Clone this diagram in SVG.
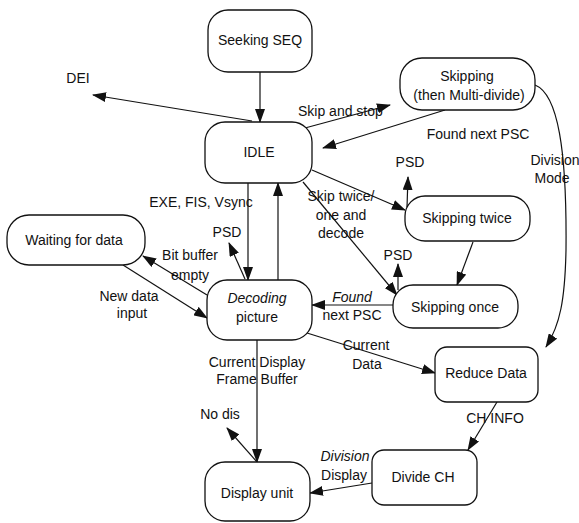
<svg xmlns="http://www.w3.org/2000/svg" width="579" height="523" viewBox="0 0 579 523">
  <style>
    .node rect { fill: #fff; stroke: #111; stroke-width: 1.3; }
    text { font-family: "Liberation Sans", Arial, sans-serif; font-size: 14px; fill: #111; }
    .c { text-anchor: middle; }
    .it { font-style: italic; }
    .edge { fill: none; stroke: #111; stroke-width: 1.2; }
  </style>
  <defs>
    <marker id="arrow" markerUnits="userSpaceOnUse" markerWidth="14" markerHeight="10" refX="13" refY="5" orient="auto">
      <path d="M0,0 L14,5 L0,10 z" fill="#111"/>
    </marker>
  </defs>
  <rect width="579" height="523" fill="#fff"/>

  <!-- connectors -->
  <g id="connectors">
    <path class="edge" d="M260,72 L260,122" marker-end="url(#arrow)"/>
    <path class="edge" d="M252,121 L93,95" marker-end="url(#arrow)"/>
    <path class="edge" d="M305,128 L390,105" marker-end="url(#arrow)"/>
    <path class="edge" d="M445,110 L323,148" marker-end="url(#arrow)"/>
    <path class="edge" d="M535,85 C558,94 567,150 566,250 C565,300 560,325 546,347" marker-end="url(#arrow)"/>
    <path class="edge" d="M312,170 L405,210" marker-end="url(#arrow)"/>
    <path class="edge" d="M407,207 L408,177" marker-end="url(#arrow)"/>
    <path class="edge" d="M303,182 L397,295" marker-end="url(#arrow)"/>
    <path class="edge" d="M473,242 L457,285" marker-end="url(#arrow)"/>
    <path class="edge" d="M398,290 L398,264" marker-end="url(#arrow)"/>
    <path class="edge" d="M393,305 L312,305" marker-end="url(#arrow)"/>
    <path class="edge" d="M248,183 L248,280" marker-end="url(#arrow)"/>
    <path class="edge" d="M278,280 L278,183" marker-end="url(#arrow)"/>
    <path class="edge" d="M245,279 L229,243" marker-end="url(#arrow)"/>
    <path class="edge" d="M207,295 L143,256" marker-end="url(#arrow)"/>
    <path class="edge" d="M123,265 L207,318" marker-end="url(#arrow)"/>
    <path class="edge" d="M307,333 L435,373" marker-end="url(#arrow)"/>
    <path class="edge" d="M257,340 L257,462" marker-end="url(#arrow)"/>
    <path class="edge" d="M257,462 L227,428" marker-end="url(#arrow)"/>
    <path class="edge" d="M497,402 L468,450" marker-end="url(#arrow)"/>
    <path class="edge" d="M372,483 L310,493" marker-end="url(#arrow)"/>
  </g>

  <!-- connector labels -->
  <g id="labels">
    <text class="c" x="78" y="83">DEI</text>
    <text x="298" y="116">Skip and stop</text>
    <text class="c" x="478" y="139">Found next PSC</text>
    <text class="c" x="555" y="165">Division</text>
    <text class="c" x="552" y="183">Mode</text>
    <text class="c" x="410" y="167">PSD</text>
    <text class="c" x="341" y="201">Skip twice/</text>
    <text class="c" x="341" y="220">one and</text>
    <text class="c" x="341" y="238">decode</text>
    <text class="c" x="398" y="260">PSD</text>
    <text class="c it" x="352" y="302">Found</text>
    <text class="c" x="352" y="320">next PSC</text>
    <text class="c" x="201" y="207">EXE, FIS, Vsync</text>
    <text class="c" x="227" y="237">PSD</text>
    <text class="c" x="190" y="260">Bit buffer</text>
    <text class="c" x="190" y="280">empty</text>
    <text class="c" x="129" y="301">New data</text>
    <text class="c" x="132" y="318">input</text>
    <text class="c" x="257" y="367">Current Display</text>
    <text class="c" x="257" y="384">Frame Buffer</text>
    <text class="c" x="366" y="350">Current</text>
    <text class="c" x="367" y="369">Data</text>
    <text class="c" x="220" y="419">No dis</text>
    <text class="c" x="495" y="423">CH INFO</text>
    <text class="c it" x="345" y="461">Division</text>
    <text class="c" x="344" y="480">Display</text>
  </g>

  <!-- nodes -->
  <g id="seeking-seq" class="node">
    <rect x="208" y="10" width="104" height="62" rx="20"/>
    <text class="c" x="260" y="45">Seeking SEQ</text>
  </g>
  <g id="idle" class="node">
    <rect x="205" y="122" width="107" height="61" rx="20"/>
    <text class="c" x="259" y="157">IDLE</text>
  </g>
  <g id="skipping-multi" class="node">
    <rect x="400" y="58" width="135" height="52" rx="22"/>
    <text class="c" x="467" y="81">Skipping</text>
    <text class="c" x="469" y="100">(then Multi-divide)</text>
  </g>
  <g id="skipping-twice" class="node">
    <rect x="405" y="196" width="125" height="45" rx="20"/>
    <text class="c" x="467" y="223">Skipping twice</text>
  </g>
  <g id="skipping-once" class="node">
    <rect x="393" y="285" width="125" height="43" rx="20"/>
    <text class="c" x="455" y="312">Skipping once</text>
  </g>
  <g id="waiting" class="node">
    <rect x="7" y="215" width="138" height="50" rx="22"/>
    <text class="c" x="74" y="245">Waiting for data</text>
  </g>
  <g id="decoding" class="node">
    <rect x="207" y="280" width="105" height="60" rx="20"/>
    <text class="c it" x="257" y="303">Decoding</text>
    <text class="c" x="257" y="322">picture</text>
  </g>
  <g id="reduce-data" class="node">
    <rect x="435" y="347" width="103" height="55" rx="12"/>
    <text class="c" x="486" y="378">Reduce Data</text>
  </g>
  <g id="divide-ch" class="node">
    <rect x="372" y="450" width="105" height="55" rx="12"/>
    <text class="c" x="423" y="482">Divide CH</text>
  </g>
  <g id="display-unit" class="node">
    <rect x="205" y="462" width="105" height="59" rx="20"/>
    <text class="c" x="257" y="498">Display unit</text>
  </g>
</svg>
